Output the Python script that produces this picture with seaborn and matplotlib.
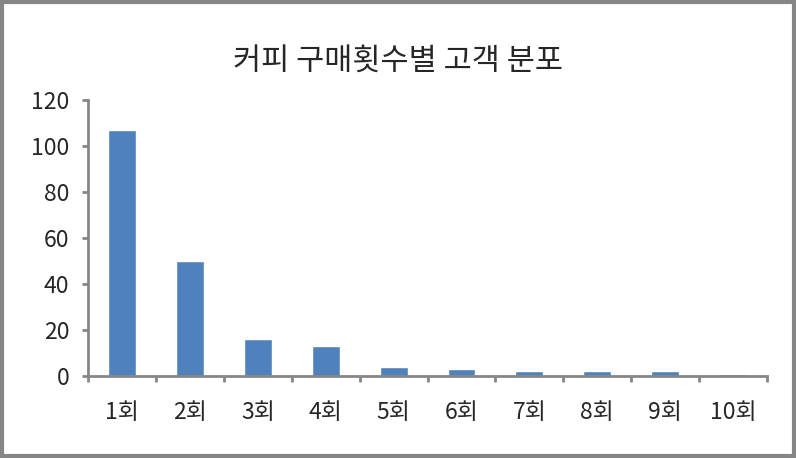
import numpy as np
import pandas as pd
import matplotlib
matplotlib.use('Agg')
import matplotlib.pyplot as plt
import seaborn as sns
from matplotlib.patches import Rectangle

# data
purchase_counts = ['1회', '2회', '3회', '4회', '5회', '6회', '7회', '8회', '9회', '10회']
customers = [107, 50, 16, 13, 4, 3, 2, 2, 2, 1]

df = pd.DataFrame({'count': purchase_counts, 'customers': customers})

sns.set_style('white')
plt.rcParams['font.family'] = ['Noto Sans CJK KR', 'DejaVu Sans']

fig = plt.figure(figsize=(7.96, 4.58), dpi=100)
ax = fig.add_axes([0.1106, 0.179, 0.853, 0.603])

sns.barplot(data=df, x='count', y='customers', color='#4f81bd',
            saturation=1, width=0.41, ax=ax)

ax.set_ylim(0, 120)
ax.set_xlim(-0.5, len(purchase_counts) - 0.5)
ax.set_yticks(np.arange(0, 121, 20))
ax.set_xlabel('')
ax.set_ylabel('')

# spines
for side in ['top', 'right']:
    ax.spines[side].set_visible(False)
for side in ['left', 'bottom']:
    ax.spines[side].set_color('#868686')
    ax.spines[side].set_linewidth(2)

# y ticks out, x ticks at category boundaries
ax.tick_params(axis='y', direction='out', length=4.5, width=2, color='#868686',
               labelsize=16.5, pad=9, left=True)
ax.tick_params(axis='x', which='major', length=0, labelsize=16.5, pad=18)
ax.set_xticks(np.arange(-0.5, len(purchase_counts), 1), minor=True)
ax.tick_params(axis='x', which='minor', direction='out', length=4.5, width=2,
               color='#868686', bottom=True)

fig.suptitle('커피 구매횟수별 고객 분포', fontsize=22, y=0.9)

fig.patches.append(Rectangle((0.003, 0.004), 0.994, 0.992, transform=fig.transFigure,
                             fill=False, edgecolor='#868686', linewidth=3))

fig.savefig('out.png', dpi=100)
